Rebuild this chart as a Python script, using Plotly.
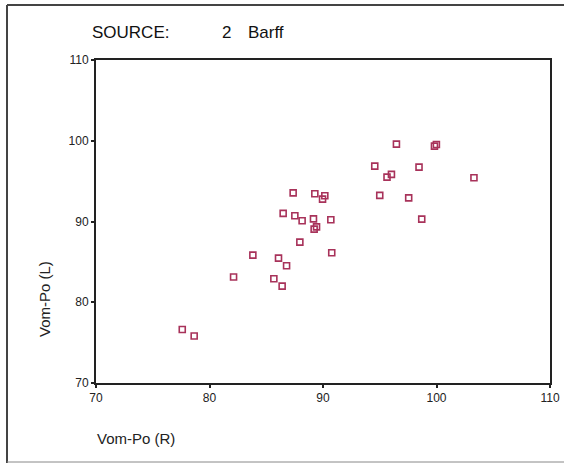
import plotly.graph_objects as go

vom_po_r = [99.99, 99.82, 96.47, 94.56, 98.46, 95.64, 96.03, 103.30, 95.0, 97.55,
            98.70, 87.37, 89.28, 90.16, 89.96, 86.49, 87.52, 88.16, 89.16, 90.69,
            89.43, 89.22, 87.96, 90.77, 83.82, 86.08, 86.79, 82.12, 85.67, 86.40,
            77.60, 78.65]
vom_po_l = [99.54, 99.33, 99.58, 96.86, 96.73, 95.5, 95.83, 95.41, 93.23, 92.93,
            90.30, 93.55, 93.43, 93.18, 92.77, 91.0, 90.71, 90.09, 90.33, 90.21,
            89.34, 89.06, 87.45, 86.13, 85.84, 85.47, 84.52, 83.12, 82.91, 82.0,
            76.62, 75.82]
tick_vals = [70, 80, 90, 100, 110]
title_parts = ["SOURCE:", "2", "Barff"]
x_title = "Vom-Po (R)"
y_title = "Vom-Po (L)"

W, H = 564, 464
L, R, T, B = 96, 14, 60, 81
pw, ph = W - L - R, H - T - B

def px(x):
    return (x - L) / pw

def py(y):
    return (H - B - y) / ph

fig = go.Figure()
fig.add_trace(go.Scatter(
    x=vom_po_r, y=vom_po_l, mode="markers",
    marker=dict(symbol="square-open", size=6, color="#a8325a", line=dict(width=1.6, color="#a8325a")),
    hoverinfo="x+y", showlegend=False))

axis_common = dict(
    range=[70, 110], tickvals=tick_vals, showgrid=False, zeroline=False,
    showline=True, linecolor="#222", linewidth=2, mirror=True, automargin=False,
    ticks="outside", ticklen=3, tickwidth=2, tickcolor="#222",
    tickfont=dict(family="Liberation Sans, Arial", size=12, color="#222"))
fig.update_xaxes(**axis_common)
fig.update_yaxes(**axis_common)

title_x = [90, 220, 246]
anns = []
for txt, xx in zip(title_parts, title_x):
    anns.append(dict(text=txt, xref="paper", yref="paper", x=px(xx), y=py(33),
                     xanchor="left", yanchor="middle", showarrow=False,
                     font=dict(size=17, color="#111")))
anns += [
    dict(text=x_title, xref="paper", yref="paper", x=px(95), y=py(438),
         xanchor="left", yanchor="middle", showarrow=False,
         font=dict(size=15, color="#222")),
    dict(text=y_title, xref="paper", yref="paper", x=px(44), y=py(299),
         xanchor="center", yanchor="middle", showarrow=False, textangle=-90,
         font=dict(size=15, color="#222")),
]

fig.update_layout(
    width=W, height=H, margin=dict(l=L, r=R, t=T, b=B, autoexpand=False),
    paper_bgcolor="white", plot_bgcolor="white",
    font=dict(family="Liberation Sans, Arial", color="#222"),
    shapes=[
        dict(type="line", xref="paper", yref="paper", x0=px(7), x1=px(7), y0=py(5), y1=py(463),
             line=dict(color="#444", width=2)),
        dict(type="line", xref="paper", yref="paper", x0=px(7), x1=px(566), y0=py(5), y1=py(5),
             line=dict(color="#444", width=2)),
        dict(type="line", xref="paper", yref="paper", x0=px(7), x1=px(566), y0=py(462), y1=py(462),
             line=dict(color="#888", width=1)),
    ],
    annotations=anns,
)
fig.write_html("out.html", config={"displayModeBar": False},
               post_script="document.body.style.margin='0px';")
